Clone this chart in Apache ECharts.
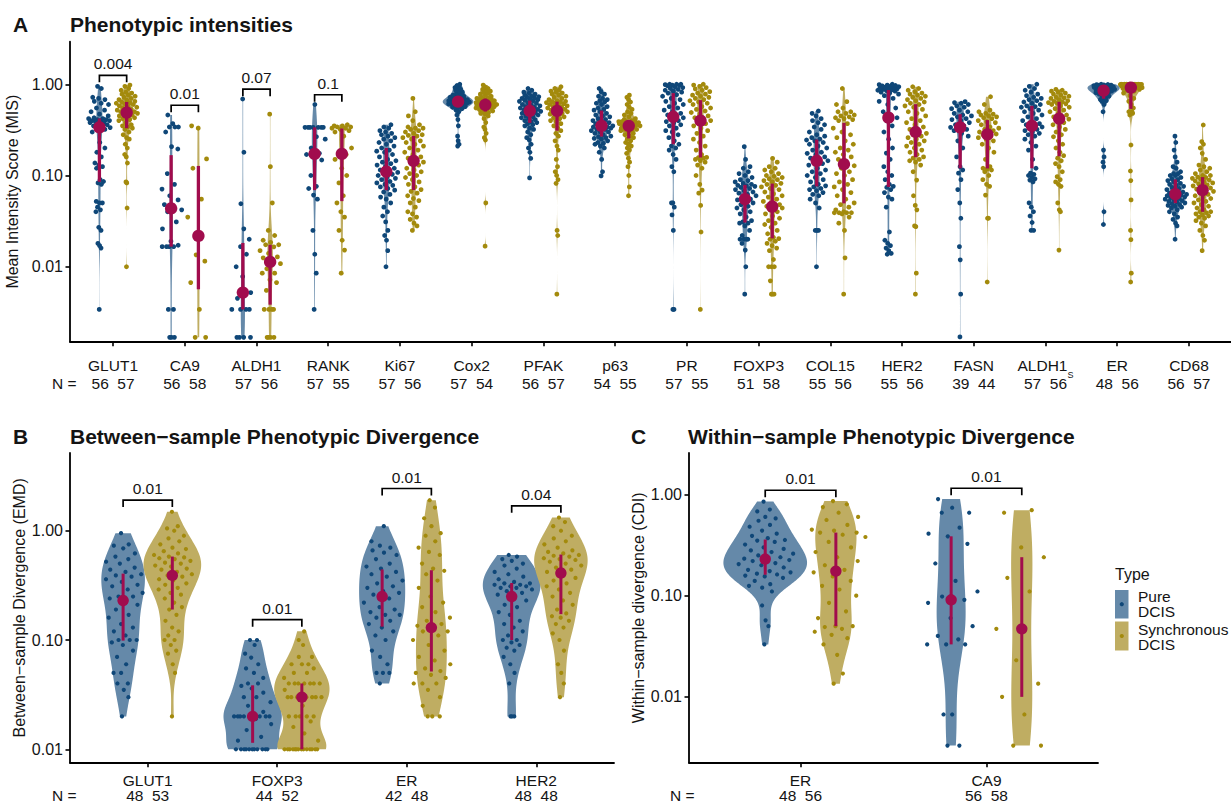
<!DOCTYPE html>
<html>
<head>
<meta charset="utf-8">
<title>Phenotypic intensities and divergence in DCIS</title>
<script src="https://cdn.jsdelivr.net/npm/echarts@6/dist/echarts.min.js"></script>
<style>
  html, body { margin: 0; padding: 0; background: #ffffff; }
  #main { width: 1231px; height: 803px; }
</style>
</head>
<body>
<div id="main"></div>
<script>
// ------------------------------------------------------------------
// Data. Values are per-sample scores; samples scoring 0 cannot be shown
// on a log axis, so the N counts are kept separately.
// ------------------------------------------------------------------

// Panel A - Mean Intensity Score (MIS)
const markersA = ['GLUT1','CA9','ALDH1','RANK','Ki67','Cox2','PFAK','p63','PR','FOXP3','COL15','HER2','FASN','ALDH1_S','ER','CD68'];
const countsA = [[56,57],[56,58],[57,56],[57,55],[57,56],[57,54],[56,57],[54,55],[57,55],[51,58],[55,56],[55,56],[39,44],[57,56],[48,56],[56,57]];
const pValuesA = ['0.004','0.01','0.07','0.1','','','','','','','','','','','',''];

const A_GLUT1_pure = [0.0034,0.016,0.017,0.018,0.025,0.027,0.04,0.042,0.045,0.05,0.05,0.052,0.08,0.083,0.086,0.09,0.12,0.125,0.13,0.137,0.16,0.18,0.2,0.23,0.3,0.32,0.33,0.335,0.34,0.35,0.36,0.37,0.38,0.38,0.39,0.40,0.40,0.40,0.41,0.41,0.42,0.42,0.43,0.45,0.47,0.5,0.52,0.55,0.6,0.62,0.65,0.68,0.7,0.72,0.9,0.95];
const A_GLUT1_sync = [0.01,0.044,0.083,0.085,0.137,0.16,0.17,0.2,0.22,0.25,0.26,0.28,0.3,0.32,0.33,0.34,0.35,0.36,0.38,0.4,0.41,0.42,0.43,0.44,0.45,0.46,0.47,0.48,0.49,0.5,0.5,0.51,0.52,0.53,0.55,0.56,0.57,0.58,0.6,0.61,0.62,0.63,0.64,0.65,0.67,0.68,0.7,0.72,0.74,0.76,0.78,0.8,0.82,0.86,0.9,0.95,0.98];
const A_CA9_pure = [0.00168,0.00168,0.00168,0.0034,0.0034,0.0166,0.0166,0.0166,0.0166,0.0172,0.019,0.026,0.031,0.04,0.042,0.045,0.048,0.054,0.06,0.071,0.08,0.105,0.195,0.207,0.30,0.34,0.34,0.34,0.37,0.46];
const A_CA9_sync = [0.00168,0.00168,0.0034,0.0067,0.0115,0.0135,0.035,0.055,0.12,0.152,0.33,0.35];
const A_ALDH1_pure = [0.00168,0.00168,0.00168,0.00168,0.0034,0.0034,0.0034,0.0034,0.0045,0.0052,0.0078,0.01,0.0137,0.0166,0.02,0.026,0.049,0.18,0.69];
const A_ALDH1_sync = [0.00168,0.00168,0.00168,0.00168,0.0034,0.0034,0.0034,0.0034,0.0055,0.0067,0.0072,0.0085,0.0085,0.0095,0.0108,0.0118,0.0125,0.0128,0.014,0.015,0.0165,0.0174,0.0174,0.0185,0.0195,0.022,0.025,0.05,0.125,0.47];
const A_RANK_pure = [0.0034,0.0085,0.0137,0.025,0.055,0.061,0.072,0.076,0.1,0.148,0.16,0.17,0.175,0.2,0.25,0.266,0.337,0.337,0.337,0.337,0.337,0.337,0.337,0.6];
const A_RANK_sync = [0.0085,0.0152,0.0195,0.025,0.035,0.04,0.05,0.06,0.083,0.1,0.12,0.15,0.17,0.175,0.2,0.27,0.3,0.31,0.32,0.33,0.33,0.34,0.34,0.35,0.35,0.36];
const A_Ki67_pure = [0.01,0.015,0.0195,0.022,0.025,0.031,0.036,0.04,0.045,0.05,0.055,0.058,0.062,0.066,0.069,0.072,0.075,0.078,0.08,0.083,0.086,0.09,0.093,0.096,0.1,0.103,0.106,0.108,0.11,0.115,0.12,0.125,0.13,0.135,0.14,0.145,0.15,0.16,0.17,0.18,0.185,0.19,0.2,0.21,0.22,0.23,0.24,0.25,0.26,0.27,0.28,0.29,0.3,0.31,0.33,0.34,0.36];
const A_Ki67_sync = [0.025,0.028,0.03,0.033,0.035,0.038,0.04,0.045,0.05,0.053,0.056,0.06,0.064,0.067,0.07,0.075,0.08,0.085,0.09,0.095,0.1,0.105,0.11,0.115,0.12,0.13,0.135,0.14,0.15,0.155,0.16,0.17,0.18,0.19,0.2,0.21,0.22,0.23,0.24,0.25,0.26,0.27,0.275,0.28,0.29,0.3,0.31,0.32,0.33,0.33,0.34,0.36,0.4,0.45,0.5,0.7];
const A_Cox2_pure = [0.21,0.22,0.24,0.27,0.35,0.41,0.46,0.5,0.52,0.54,0.55,0.56,0.56,0.57,0.57,0.58,0.59,0.6,0.6,0.61,0.61,0.62,0.62,0.63,0.63,0.64,0.64,0.64,0.645,0.65,0.65,0.66,0.66,0.67,0.67,0.68,0.69,0.7,0.7,0.71,0.72,0.72,0.73,0.74,0.75,0.76,0.78,0.8,0.82,0.84,0.86,0.88,0.9,0.92,0.94,0.97,1.0];
const A_Cox2_sync = [0.0168,0.05,0.245,0.26,0.29,0.32,0.34,0.38,0.42,0.45,0.47,0.48,0.49,0.5,0.51,0.52,0.53,0.54,0.55,0.55,0.56,0.56,0.57,0.57,0.58,0.58,0.59,0.6,0.6,0.61,0.62,0.62,0.63,0.64,0.65,0.66,0.67,0.68,0.68,0.69,0.7,0.71,0.72,0.74,0.76,0.78,0.8,0.82,0.84,0.86,0.88,0.9,0.94,0.98];
const A_PFAK_pure = [0.094,0.154,0.18,0.2,0.22,0.245,0.26,0.28,0.3,0.32,0.33,0.35,0.36,0.37,0.38,0.39,0.4,0.41,0.42,0.43,0.44,0.45,0.46,0.47,0.48,0.49,0.5,0.505,0.515,0.52,0.53,0.54,0.55,0.56,0.57,0.58,0.59,0.6,0.62,0.63,0.65,0.66,0.67,0.68,0.69,0.7,0.71,0.72,0.73,0.74,0.76,0.78,0.8,0.82,0.86,0.9];
const A_PFAK_sync = [0.005,0.022,0.025,0.082,0.09,0.1,0.11,0.125,0.15,0.19,0.21,0.24,0.27,0.29,0.31,0.33,0.35,0.37,0.39,0.4,0.42,0.43,0.44,0.46,0.47,0.48,0.49,0.5,0.51,0.52,0.53,0.54,0.55,0.56,0.57,0.58,0.59,0.6,0.61,0.62,0.63,0.64,0.645,0.65,0.66,0.68,0.7,0.72,0.74,0.76,0.78,0.8,0.82,0.84,0.87,0.9,0.94];
const A_p63_pure = [0.099,0.11,0.15,0.18,0.2,0.21,0.22,0.225,0.23,0.24,0.25,0.255,0.26,0.266,0.27,0.28,0.29,0.3,0.3,0.31,0.32,0.32,0.33,0.33,0.34,0.34,0.35,0.35,0.36,0.37,0.38,0.39,0.4,0.41,0.42,0.44,0.45,0.46,0.48,0.5,0.52,0.53,0.55,0.57,0.6,0.62,0.64,0.66,0.68,0.7,0.74,0.78,0.83,0.9];
const A_p63_sync = [0.06,0.075,0.1,0.125,0.14,0.155,0.175,0.19,0.2,0.21,0.22,0.23,0.24,0.25,0.26,0.27,0.28,0.29,0.3,0.31,0.31,0.32,0.32,0.33,0.33,0.34,0.34,0.35,0.35,0.36,0.36,0.37,0.37,0.37,0.38,0.38,0.38,0.39,0.39,0.39,0.39,0.4,0.41,0.42,0.44,0.46,0.48,0.5,0.53,0.56,0.6,0.64,0.68,0.72,0.76];
const A_PR_pure = [0.0034,0.0034,0.025,0.037,0.045,0.05,0.05,0.11,0.125,0.15,0.17,0.19,0.2,0.21,0.22,0.24,0.26,0.28,0.3,0.31,0.33,0.35,0.36,0.38,0.39,0.4,0.42,0.43,0.44,0.46,0.48,0.5,0.52,0.55,0.57,0.6,0.62,0.65,0.68,0.7,0.74,0.77,0.8,0.82,0.84,0.86,0.88,0.9,0.92,0.94,0.96,0.97,0.98,0.99,1.0,1.0,1.0];
const A_PR_sync = [0.0034,0.024,0.047,0.064,0.069,0.08,0.1,0.12,0.13,0.14,0.145,0.15,0.155,0.157,0.158,0.17,0.19,0.21,0.23,0.25,0.27,0.29,0.31,0.33,0.35,0.37,0.39,0.4,0.41,0.43,0.45,0.47,0.49,0.51,0.53,0.55,0.57,0.6,0.62,0.64,0.66,0.68,0.7,0.72,0.74,0.76,0.78,0.8,0.83,0.86,0.89,0.92,0.95,0.98,1.0];
const A_FOXP3_pure = [0.005,0.01,0.0152,0.018,0.02,0.02,0.02,0.02,0.022,0.025,0.028,0.03,0.03,0.031,0.032,0.035,0.038,0.04,0.042,0.044,0.046,0.048,0.05,0.052,0.054,0.055,0.057,0.06,0.062,0.064,0.066,0.068,0.07,0.072,0.074,0.076,0.077,0.078,0.08,0.082,0.085,0.088,0.09,0.095,0.1,0.105,0.11,0.12,0.125,0.15,0.207];
const A_FOXP3_sync = [0.005,0.005,0.005,0.007,0.01,0.01,0.01,0.012,0.015,0.016,0.017,0.018,0.019,0.02,0.0203,0.021,0.023,0.025,0.027,0.029,0.03,0.032,0.034,0.036,0.038,0.04,0.042,0.044,0.045,0.046,0.048,0.05,0.052,0.055,0.058,0.06,0.063,0.066,0.07,0.072,0.075,0.078,0.08,0.082,0.085,0.088,0.09,0.092,0.095,0.098,0.1,0.105,0.11,0.115,0.12,0.125,0.14,0.154];
const A_COL15_pure = [0.01,0.025,0.025,0.025,0.044,0.05,0.055,0.06,0.062,0.065,0.068,0.07,0.072,0.075,0.077,0.08,0.085,0.09,0.095,0.1,0.105,0.11,0.115,0.12,0.13,0.135,0.14,0.145,0.15,0.155,0.16,0.17,0.175,0.18,0.19,0.2,0.21,0.22,0.23,0.24,0.245,0.25,0.26,0.27,0.28,0.3,0.32,0.34,0.36,0.38,0.4,0.42,0.45,0.48,0.51];
const A_COL15_sync = [0.005,0.0125,0.025,0.03,0.035,0.038,0.039,0.039,0.039,0.039,0.04,0.042,0.045,0.048,0.05,0.055,0.06,0.065,0.07,0.075,0.08,0.085,0.09,0.1,0.105,0.11,0.12,0.128,0.138,0.15,0.16,0.17,0.18,0.19,0.2,0.22,0.24,0.26,0.28,0.3,0.33,0.37,0.4,0.41,0.42,0.43,0.44,0.45,0.46,0.48,0.5,0.5,0.55,0.6,0.645,0.9];
const A_HER2_pure = [0.0137,0.014,0.015,0.016,0.017,0.018,0.0195,0.024,0.045,0.055,0.058,0.065,0.07,0.074,0.076,0.08,0.09,0.1,0.11,0.125,0.15,0.176,0.2,0.25,0.3,0.35,0.4,0.43,0.46,0.5,0.55,0.6,0.65,0.7,0.75,0.78,0.8,0.82,0.84,0.85,0.86,0.87,0.88,0.89,0.9,0.91,0.92,0.93,0.94,0.95,0.96,0.97,0.98,0.99,1.0];
const A_HER2_sync = [0.005,0.0085,0.0275,0.028,0.042,0.047,0.06,0.089,0.11,0.13,0.14,0.145,0.15,0.155,0.16,0.17,0.18,0.19,0.2,0.21,0.22,0.23,0.24,0.25,0.26,0.27,0.28,0.29,0.31,0.32,0.34,0.36,0.38,0.4,0.42,0.45,0.48,0.5,0.53,0.56,0.58,0.6,0.62,0.64,0.66,0.68,0.7,0.72,0.74,0.76,0.78,0.8,0.83,0.86,0.9,0.94];
const A_FASN_pure = [0.0017,0.005,0.0119,0.0166,0.034,0.05,0.07,0.09,0.106,0.115,0.125,0.16,0.2,0.24,0.27,0.29,0.31,0.32,0.33,0.337,0.35,0.36,0.38,0.4,0.41,0.42,0.44,0.45,0.46,0.48,0.5,0.52,0.54,0.56,0.58,0.6,0.62,0.63,0.645];
const A_FASN_sync = [0.0068,0.034,0.034,0.061,0.076,0.08,0.09,0.1,0.11,0.115,0.118,0.12,0.125,0.15,0.18,0.2,0.22,0.24,0.25,0.26,0.27,0.28,0.285,0.29,0.3,0.31,0.32,0.33,0.34,0.36,0.38,0.39,0.4,0.42,0.43,0.44,0.45,0.46,0.47,0.48,0.5,0.52,0.6,0.73];
const A_ALDH1S_pure = [0.025,0.025,0.0305,0.036,0.04,0.045,0.05,0.085,0.089,0.092,0.095,0.1,0.103,0.106,0.12,0.15,0.19,0.21,0.23,0.25,0.27,0.28,0.29,0.3,0.31,0.32,0.33,0.34,0.35,0.36,0.37,0.38,0.4,0.42,0.44,0.46,0.48,0.5,0.52,0.54,0.56,0.57,0.58,0.6,0.62,0.64,0.66,0.68,0.7,0.72,0.75,0.78,0.82,0.86,0.9,0.95,1.0];
const A_ALDH1S_sync = [0.0152,0.04,0.042,0.05,0.076,0.08,0.085,0.09,0.097,0.11,0.125,0.135,0.145,0.155,0.165,0.18,0.2,0.22,0.24,0.266,0.28,0.3,0.32,0.34,0.36,0.38,0.4,0.415,0.425,0.44,0.46,0.48,0.5,0.52,0.54,0.56,0.58,0.6,0.61,0.62,0.63,0.64,0.65,0.66,0.68,0.7,0.71,0.72,0.74,0.76,0.78,0.8,0.82,0.84,0.86,0.88];
const A_ER_pure = [0.029,0.04,0.125,0.14,0.16,0.19,0.5,0.6,0.65,0.66,0.67,0.68,0.7,0.72,0.74,0.76,0.78,0.79,0.8,0.81,0.82,0.83,0.84,0.845,0.855,0.86,0.87,0.88,0.89,0.9,0.91,0.92,0.925,0.93,0.935,0.94,0.945,0.95,0.955,0.96,0.965,0.97,0.975,0.98,0.985,0.99,0.995,1.0];
const A_ER_sync = [0.0068,0.0085,0.0198,0.025,0.054,0.088,0.112,0.216,0.46,0.48,0.49,0.5,0.5,0.5,0.55,0.6,0.65,0.7,0.75,0.8,0.84,0.86,0.88,0.89,0.9,0.91,0.915,0.918,0.922,0.93,0.94,0.95,0.96,0.965,0.97,0.975,0.98,0.985,0.99,0.99,0.995,0.995,0.995,0.996,0.997,0.998,0.998,0.999,0.999,1,1,1,1,1,1,1];
const A_CD68_pure = [0.02,0.028,0.03,0.033,0.035,0.038,0.04,0.042,0.044,0.045,0.046,0.047,0.048,0.049,0.05,0.051,0.052,0.053,0.054,0.055,0.056,0.057,0.058,0.059,0.06,0.061,0.062,0.062,0.063,0.064,0.066,0.068,0.07,0.072,0.074,0.076,0.078,0.08,0.082,0.085,0.088,0.09,0.092,0.095,0.1,0.1,0.105,0.105,0.11,0.12,0.125,0.14,0.16,0.19,0.23,0.27];
const A_CD68_sync = [0.015,0.0195,0.022,0.025,0.028,0.03,0.032,0.034,0.035,0.036,0.037,0.038,0.039,0.04,0.04,0.042,0.044,0.046,0.048,0.05,0.052,0.054,0.056,0.058,0.06,0.062,0.065,0.067,0.069,0.071,0.073,0.075,0.077,0.079,0.081,0.083,0.085,0.087,0.089,0.091,0.093,0.095,0.096,0.1,0.1,0.105,0.11,0.115,0.12,0.125,0.13,0.15,0.175,0.2,0.22,0.235,0.358];

const pureA = [A_GLUT1_pure,A_CA9_pure,A_ALDH1_pure,A_RANK_pure,A_Ki67_pure,A_Cox2_pure,A_PFAK_pure,A_p63_pure,A_PR_pure,A_FOXP3_pure,A_COL15_pure,A_HER2_pure,A_FASN_pure,A_ALDH1S_pure,A_ER_pure,A_CD68_pure];
const syncA = [A_GLUT1_sync,A_CA9_sync,A_ALDH1_sync,A_RANK_sync,A_Ki67_sync,A_Cox2_sync,A_PFAK_sync,A_p63_sync,A_PR_sync,A_FOXP3_sync,A_COL15_sync,A_HER2_sync,A_FASN_sync,A_ALDH1S_sync,A_ER_sync,A_CD68_sync];

// Panel B - between-sample divergence (EMD)
const markersB = ['GLUT1','FOXP3','ER','HER2'];
const countsB = [[48,53],[44,52],[42,48],[48,48]];
const pValuesB = ['0.01','0.01','0.01','0.04'];
const B_GLUT1_pure = [0.02,0.03,0.035,0.04,0.04,0.05,0.05,0.06,0.07,0.08,0.09,0.095,0.1,0.1,0.1,0.11,0.12,0.13,0.14,0.16,0.17,0.19,0.21,0.22,0.24,0.25,0.25,0.27,0.29,0.31,0.32,0.34,0.36,0.38,0.39,0.4,0.42,0.44,0.46,0.5,0.52,0.55,0.58,0.62,0.69,0.73,0.75,0.95];
const B_GLUT1_sync = [0.02,0.05,0.06,0.075,0.08,0.09,0.1,0.1,0.11,0.12,0.13,0.15,0.17,0.19,0.2,0.22,0.24,0.26,0.27,0.29,0.3,0.32,0.33,0.35,0.36,0.38,0.39,0.4,0.42,0.44,0.45,0.47,0.48,0.5,0.51,0.53,0.55,0.56,0.57,0.58,0.6,0.62,0.65,0.68,0.7,0.75,0.8,0.85,0.9,1.0,1.05,1.1,1.49];
const B_FOXP3_pure = [0.01,0.01,0.01,0.01,0.01,0.01,0.01,0.01,0.01,0.01,0.01,0.012,0.013,0.015,0.017,0.019,0.02,0.02,0.02,0.02,0.02,0.02,0.02,0.02,0.02,0.022,0.025,0.027,0.03,0.03,0.033,0.036,0.038,0.04,0.04,0.045,0.05,0.055,0.06,0.069,0.075,0.09,0.1,0.1];
const B_FOXP3_sync = [0.01,0.01,0.01,0.01,0.01,0.01,0.01,0.01,0.01,0.01,0.01,0.01,0.01,0.01,0.012,0.014,0.016,0.018,0.02,0.02,0.02,0.02,0.02,0.025,0.03,0.03,0.03,0.03,0.03,0.03,0.03,0.03,0.035,0.04,0.04,0.04,0.04,0.04,0.04,0.04,0.045,0.05,0.05,0.055,0.06,0.06,0.06,0.07,0.07,0.09,0.1,0.12];
const B_ER_pure = [0.04,0.05,0.05,0.05,0.06,0.07,0.08,0.1,0.11,0.12,0.13,0.14,0.15,0.16,0.17,0.17,0.18,0.19,0.2,0.22,0.24,0.26,0.27,0.28,0.3,0.31,0.33,0.35,0.38,0.4,0.42,0.45,0.47,0.5,0.55,0.6,0.63,0.66,0.7,0.73,0.8,1.1];
const B_ER_sync = [0.02,0.02,0.02,0.025,0.03,0.035,0.04,0.04,0.04,0.045,0.048,0.05,0.052,0.055,0.06,0.065,0.07,0.08,0.09,0.1,0.11,0.12,0.12,0.125,0.135,0.14,0.15,0.16,0.18,0.2,0.22,0.25,0.3,0.35,0.4,0.43,0.45,0.5,0.6,0.64,0.7,0.8,0.9,0.95,1.1,1.3,1.63,1.9];
const B_HER2_pure = [0.02,0.02,0.02,0.04,0.05,0.06,0.07,0.08,0.085,0.09,0.095,0.1,0.1,0.11,0.12,0.13,0.14,0.15,0.17,0.18,0.2,0.21,0.23,0.24,0.26,0.27,0.28,0.29,0.3,0.3,0.31,0.31,0.32,0.32,0.33,0.33,0.34,0.36,0.38,0.4,0.42,0.45,0.48,0.5,0.53,0.55,0.58,0.6];
const B_HER2_sync = [0.03,0.04,0.05,0.06,0.08,0.1,0.115,0.13,0.14,0.15,0.16,0.165,0.175,0.19,0.21,0.23,0.25,0.27,0.29,0.31,0.33,0.35,0.37,0.4,0.42,0.44,0.46,0.48,0.5,0.52,0.54,0.55,0.56,0.58,0.59,0.6,0.62,0.64,0.66,0.7,0.75,0.8,0.85,0.9,1.0,1.1,1.2,1.32];
const pureB = [B_GLUT1_pure,B_FOXP3_pure,B_ER_pure,B_HER2_pure];
const syncB = [B_GLUT1_sync,B_FOXP3_sync,B_ER_sync,B_HER2_sync];

// Panel C - within-sample divergence (CDI)
const markersC = ['ER','CA9'];
const countsC = [[48,56],[56,58]];
const pValuesC = ['0.01','0.01'];
const C_ER_pure = [0.033,0.05,0.057,0.08,0.11,0.12,0.125,0.13,0.14,0.15,0.155,0.158,0.162,0.165,0.17,0.175,0.18,0.19,0.2,0.205,0.21,0.22,0.225,0.228,0.232,0.24,0.25,0.26,0.27,0.28,0.29,0.3,0.32,0.34,0.35,0.355,0.37,0.39,0.41,0.44,0.48,0.5,0.55,0.58,0.6,0.68,0.71,0.85];
const C_ER_sync = [0.0135,0.017,0.026,0.033,0.038,0.041,0.044,0.047,0.049,0.05,0.05,0.06,0.07,0.085,0.1,0.115,0.125,0.14,0.155,0.17,0.18,0.2,0.22,0.24,0.27,0.3,0.34,0.38,0.4,0.42,0.42,0.44,0.45,0.5,0.56,0.6,0.66,0.75,0.8,0.86];
const C_CA9_pure = [0.0033,0.0033,0.0067,0.0067,0.033,0.033,0.033,0.037,0.04,0.05,0.06,0.085,0.091,0.098,0.11,0.14,0.208,0.325,0.386,0.41,0.47,0.66,0.66,0.74,0.9];
const C_CA9_sync = [0.0033,0.0033,0.0067,0.01,0.0135,0.023,0.047,0.11,0.15,0.24,0.3,0.66,0.7];
const pureC = [C_ER_pure,C_CA9_pure];
const syncC = [C_ER_sync,C_CA9_sync];

const yTickValues = [0.01, 0.1, 1];

// ------------------------------------------------------------------
// Styling
// ------------------------------------------------------------------
const FONT = '"Liberation Sans", Arial, Helvetica, sans-serif';
const INK = '#141414';
const COL = {
  pureDot: '#0f4778', syncDot: '#a38a0c',
  pureFill: '#6589a9', syncFill: '#bfad62',
  stat: '#a10c4d'
};
const DODGE = 0.19;        // half distance between the two groups of a marker
const VIOLIN_HALF = 0.225; // half width of the widest violin in a panel
const SINA_HALF = 0.16;    // half spread of the points at a group's densest value

// ------------------------------------------------------------------
// Statistics (computed on log10 values, as the axes are log10)
// ------------------------------------------------------------------
function q7(sorted, p) {
  const h = (sorted.length - 1) * p;
  const lo = Math.floor(h);
  const hi = Math.min(lo + 1, sorted.length - 1);
  return sorted[lo] + (h - lo) * (sorted[hi] - sorted[lo]);
}
function bwNrd0(x) {
  const n = x.length;
  const m = x.reduce((a, b) => a + b, 0) / n;
  const sd = Math.sqrt(x.reduce((a, b) => a + (b - m) * (b - m), 0) / (n - 1));
  const iqr = q7(x, 0.75) - q7(x, 0.25);
  let lo = Math.min(sd, iqr / 1.34);
  if (!(lo > 0)) lo = sd > 0 ? sd : (Math.abs(x[0]) || 1);
  return 0.9 * lo * Math.pow(n, -0.2);
}
function density(x, bw, t) {
  let s = 0;
  for (const v of x) { const z = (t - v) / bw; s += Math.exp(-0.5 * z * z); }
  return s / (x.length * bw * Math.sqrt(2 * Math.PI));
}
function buildGroup(values, cx, type) {
  const vals = values.filter(v => v > 0).slice().sort((a, b) => a - b);
  const logs = vals.map(v => Math.log10(v));
  const bw = bwNrd0(logs);
  const lo = logs[0], hi = logs[logs.length - 1];
  const K = 160, ys = [], ds = [];
  for (let k = 0; k < K; k++) {
    const t = lo + (hi - lo) * k / (K - 1);
    ys.push(t); ds.push(density(logs, bw, t));
  }
  const dmax = Math.max(...ds);
  const points = logs.map((l, i) => {
    const u = ((i * 0.6180339887 + 0.31) % 1) * 2 - 1;
    const rel = Math.min(1, density(logs, bw, l) / dmax);
    return [cx + u * rel * SINA_HALF, vals[i]];
  });
  return {
    type, cx, ys, ds, dmax, points, max: vals[vals.length - 1],
    q1: Math.pow(10, q7(logs, 0.25)),
    med: Math.pow(10, q7(logs, 0.5)),
    q3: Math.pow(10, q7(logs, 0.75))
  };
}
function buildPanel(markers, pureSets, syncSets, pvals) {
  const groups = [];
  markers.forEach((m, i) => {
    groups.push(buildGroup(pureSets[i], i + 1 - DODGE, 0));
    groups.push(buildGroup(syncSets[i], i + 1 + DODGE, 1));
  });
  const gmax = Math.max(...groups.map(g => g.dmax));
  groups.forEach(g => { g.widths = g.ds.map(d => d / gmax * VIOLIN_HALF); });
  const brackets = [];
  markers.forEach((m, i) => {
    if (!pvals[i]) return;
    const top = Math.max(groups[2 * i].max, groups[2 * i + 1].max);
    brackets.push({ x1: i + 1 - DODGE, x2: i + 1 + DODGE, y: top * 1.28, p: pvals[i] });
  });
  return { groups, brackets };
}

const panels = [
  Object.assign(buildPanel(markersA, pureA, syncA, pValuesA), {
    markers: markersA, counts: countsA,
    grid: { left: 70, top: 41.7, width: 1162, height: 300 },
    yMin: 0.001506, yMax: 2.93, yName: 'Mean Intensity Score (MIS)',
    dot: 4.8, statR: 6.2, statW: 3.3, labelMargin: 15.5, lineH: 17.5
  }),
  Object.assign(buildPanel(markersB, pureB, syncB, pValuesB), {
    markers: markersB, counts: countsB,
    grid: { left: 70, top: 453, width: 544, height: 309.7 },
    yMin: 0.00754, yMax: 5.14, yName: 'Between\u2212sample Divergence (EMD)',
    dot: 4.2, statR: 5.7, statW: 3, labelMargin: 9.5, lineH: 15.6
  }),
  Object.assign(buildPanel(markersC, pureC, syncC, pValuesC), {
    markers: markersC, counts: countsC,
    grid: { left: 689, top: 453, width: 409, height: 309.7 },
    yMin: 0.002235, yMax: 2.57, yName: 'Within\u2212sample divergence (CDI)',
    dot: 4.2, statR: 5.7, statW: 3, labelMargin: 9.5, lineH: 15.6
  })
];

// ------------------------------------------------------------------
// Option
// ------------------------------------------------------------------
const grids = [], xAxes = [], yAxes = [], series = [];

panels.forEach((P, k) => {
  grids.push(Object.assign({ containLabel: false, outerBoundsMode: 'none' }, P.grid));
  const ticks = P.markers.map((m, i) => i + 1);
  xAxes.push({
    type: 'value', gridIndex: k, min: 0.4, max: P.markers.length + 0.6,
    splitLine: { show: false },
    axisLine: { show: true, onZero: false, lineStyle: { color: '#000', width: 1.8 } },
    axisTick: { show: true, customValues: ticks, length: 4.5, lineStyle: { color: '#000', width: 1.6 } },
    axisLabel: {
      show: true, customValues: ticks, margin: P.labelMargin, color: INK, fontFamily: FONT,
      formatter: (v) => {
        const i = Math.round(v) - 1;
        const name = P.markers[i];
        const c = P.counts[i];
        const head = name.endsWith('_S') ? `{c|${name.slice(0, -2)}}{s|S}` : `{c|${name}}`;
        return `${head}\n{n|${c[0]}}{sp| }{n|${c[1]}}`;
      },
      rich: {
        c: { fontSize: 15.5, lineHeight: P.lineH, color: INK, fontFamily: FONT },
        s: { fontSize: 9, lineHeight: P.lineH, color: INK, fontFamily: FONT, verticalAlign: 'bottom', padding: [0, 0, -5, 0] },
        n: { fontSize: 15.5, lineHeight: P.lineH, color: INK, fontFamily: FONT },
        sp: { fontSize: 15.5, width: 8.6, lineHeight: P.lineH }
      }
    }
  });
  yAxes.push({
    type: 'log', logBase: 10, gridIndex: k, min: P.yMin, max: P.yMax,
    splitLine: { show: false }, minorTick: { show: false },
    axisLine: { show: true, onZero: false, lineStyle: { color: '#000', width: 1.8 } },
    axisTick: { show: true, customValues: yTickValues, length: 4.5, lineStyle: { color: '#000', width: 1.6 } },
    axisLabel: {
      show: true, customValues: yTickValues, margin: 7, color: INK, fontSize: 16, fontFamily: FONT,
      formatter: (v) => Number(v).toFixed(2)
    },
    name: P.yName, nameLocation: 'middle', nameGap: 43, nameRotate: 90,
    nameTextStyle: { fontSize: 16, color: INK, fontFamily: FONT }
  });

  const axisRef = { xAxisIndex: k, yAxisIndex: k };

  // violins
  series.push(Object.assign({
    type: 'custom', silent: true, z: 1,
    data: P.groups.map(g => [g.cx, g.med]),
    renderItem: (params, api) => {
      const g = P.groups[params.dataIndex];
      const pts = [];
      for (let j = 0; j < g.ys.length; j++) pts.push(api.coord([g.cx - g.widths[j], Math.pow(10, g.ys[j])]));
      for (let j = g.ys.length - 1; j >= 0; j--) pts.push(api.coord([g.cx + g.widths[j], Math.pow(10, g.ys[j])]));
      return { type: 'polygon', shape: { points: pts }, style: { fill: g.type ? COL.syncFill : COL.pureFill, stroke: null } };
    }
  }, axisRef));

  // sample points
  [0, 1].forEach(t => {
    series.push(Object.assign({
      type: 'scatter', silent: true, z: 2,
      name: t ? 'Synchronous DCIS' : 'Pure DCIS',
      symbol: 'circle', symbolSize: P.dot,
      itemStyle: { color: t ? COL.syncDot : COL.pureDot, opacity: 1 },
      data: P.groups.filter(g => g.type === t).flatMap(g => g.points)
    }, axisRef));
  });

  // median with interquartile range
  series.push(Object.assign({
    type: 'custom', silent: true, z: 3,
    data: P.groups.map(g => [g.cx, g.med]),
    renderItem: (params, api) => {
      const g = P.groups[params.dataIndex];
      const a = api.coord([g.cx, g.q1]), b = api.coord([g.cx, g.q3]), c = api.coord([g.cx, g.med]);
      return { type: 'group', children: [
        { type: 'line', shape: { x1: a[0], y1: a[1], x2: b[0], y2: b[1] }, style: { stroke: COL.stat, lineWidth: P.statW } },
        { type: 'circle', shape: { cx: c[0], cy: c[1], r: P.statR }, style: { fill: COL.stat } }
      ] };
    }
  }, axisRef));

  // significance brackets
  series.push(Object.assign({
    type: 'custom', silent: true, z: 4, clip: false,
    data: P.brackets.map(b => [b.x1, b.y]),
    renderItem: (params, api) => {
      const d = P.brackets[params.dataIndex];
      const l = api.coord([d.x1, d.y]), r = api.coord([d.x2, d.y]);
      return { type: 'group', children: [
        { type: 'polyline', shape: { points: [[l[0], l[1] + 7], [l[0], l[1]], [r[0], r[1]], [r[0], r[1] + 7]] },
          style: { stroke: '#000', lineWidth: 1.7, fill: null } },
        { type: 'text', style: { text: d.p, x: (l[0] + r[0]) / 2, y: l[1] - 3.5, align: 'center', verticalAlign: 'bottom',
          fontSize: 15.5, fontFamily: FONT, fill: INK } }
      ] };
    }
  }, axisRef));
});

// titles, N labels and legend
function txt(text, x, y, size, weight, align) {
  return { type: 'text', x, y, silent: true,
    style: { text, fontSize: size, fontWeight: weight || 'normal', fontFamily: FONT, fill: INK,
      align: align || 'left', verticalAlign: 'middle' } };
}
const graphics = [
  txt('A', 13, 24, 21, 'bold'),
  txt('Phenotypic intensities', 70, 24, 21, 'bold'),
  txt('B', 13, 436, 21, 'bold'),
  txt('Between\u2212sample Phenotypic Divergence', 70, 436, 21, 'bold'),
  txt('C', 631, 436, 21, 'bold'),
  txt('Within\u2212sample Phenotypic Divergence', 688, 436, 21, 'bold'),
  txt('N =', 52, 383.5, 15.5),
  txt('N =', 52, 795.8, 15.5),
  txt('N =', 670, 795.8, 15.5),
  txt('Type', 1115, 574, 16),
  { type: 'rect', shape: { x: 1115, y: 590, width: 13.5, height: 28.5 }, style: { fill: COL.pureFill } },
  { type: 'circle', shape: { cx: 1121.8, cy: 604.2, r: 2.1 }, style: { fill: COL.pureDot } },
  { type: 'rect', shape: { x: 1115, y: 621.5, width: 13.5, height: 29 }, style: { fill: COL.syncFill } },
  { type: 'circle', shape: { cx: 1121.8, cy: 636, r: 2.1 }, style: { fill: COL.syncDot } },
  txt('Pure', 1138, 596, 15.5),
  txt('DCIS', 1138, 611.5, 15.5),
  txt('Synchronous', 1138, 629, 15.5),
  txt('DCIS', 1138, 644, 15.5)
];

const chart = echarts.init(document.getElementById('main'), null, { renderer: 'svg' });
chart.setOption({
  animation: false,
  backgroundColor: '#ffffff',
  textStyle: { fontFamily: FONT },
  grid: grids,
  xAxis: xAxes,
  yAxis: yAxes,
  series,
  graphic: graphics
});
</script>
</body>
</html>
